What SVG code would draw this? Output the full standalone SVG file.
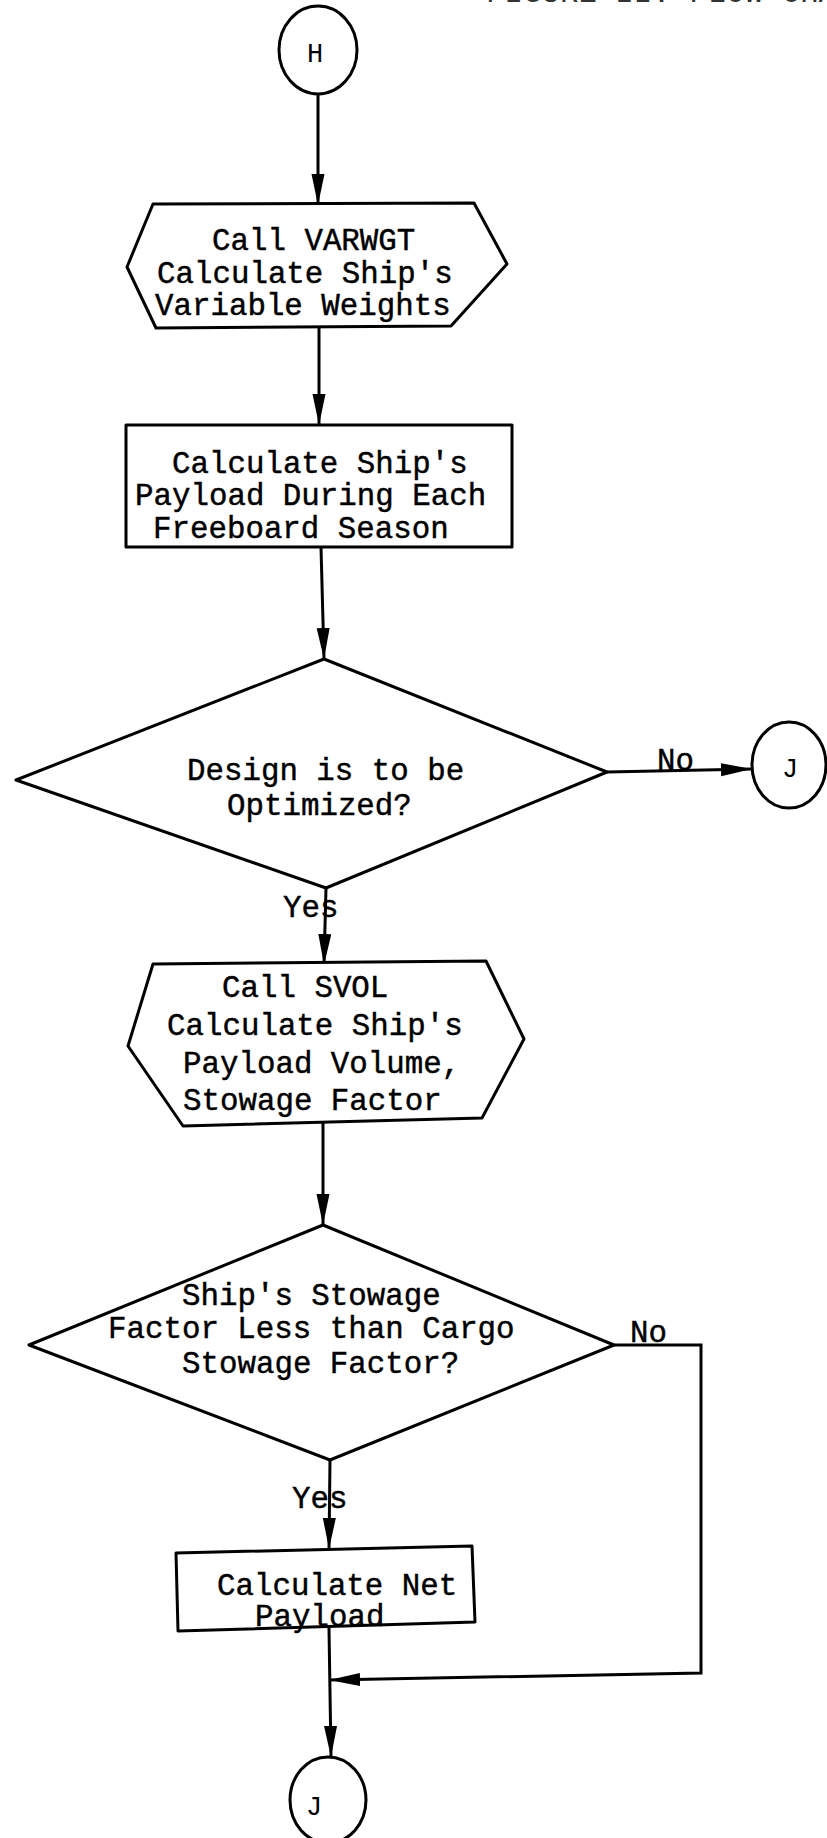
<svg xmlns="http://www.w3.org/2000/svg" width="827" height="1838" viewBox="0 0 827 1838">
  <defs>
    <marker id="arrow" markerUnits="userSpaceOnUse" markerWidth="32" markerHeight="14" refX="31" refY="6.5" orient="auto">
      <path d="M0,0 L31,6.5 L0,13 Z" fill="#000"/>
    </marker>
    <style>
      .shape { fill: #fff; stroke: #000; stroke-width: 3; stroke-linejoin: round; }
      .conn { fill: none; stroke: #000; stroke-width: 3; }
      .t { font-family: "Liberation Mono", "Courier New", monospace; font-size: 30.8px; fill: #000; stroke: #000; stroke-width: 0.45; }
      .c { font-family: "Liberation Mono", "Courier New", monospace; font-size: 27px; fill: #000; }
      .hdr { font-family: "Liberation Mono", "Courier New", monospace; font-size: 30.8px; fill: #333; }
    </style>
  </defs>

  <rect width="827" height="1838" fill="#fff"/>

  <!-- page heading, cut by the top edge -->
  <text class="hdr" x="486" y="2">FIGURE II. FLOW CHART</text>

  <g id="connectors">
    <path class="conn" d="M318,94 L318,205" marker-end="url(#arrow)"/>
    <path class="conn" d="M319,327 L319,425" marker-end="url(#arrow)"/>
    <path class="conn" d="M321,547 L324,659" marker-end="url(#arrow)"/>
    <path class="conn" d="M607,772 L752,769" marker-end="url(#arrow)"/>
    <path class="conn" d="M326,888 L324,965" marker-end="url(#arrow)"/>
    <path class="conn" d="M323,1118 L323,1225" marker-end="url(#arrow)"/>
    <path class="conn" d="M330,1460 L329,1549" marker-end="url(#arrow)"/>
    <path class="conn" d="M614,1345 L701,1345 L701,1673 L329,1680" marker-end="url(#arrow)"/>
    <path class="conn" d="M329,1628 L331,1757" marker-end="url(#arrow)"/>
  </g>

  <g id="start-H">
    <ellipse class="shape" cx="318" cy="50" rx="39" ry="44"/>
    <text class="c" x="307" y="62">H</text>
  </g>

  <g id="call-varwgt">
    <polygon class="shape" points="153,204 474,203 507,264 451,326 156,328 127,267"/>
    <text class="t" x="212" y="250">Call VARWGT</text>
    <text class="t" x="157" y="283">Calculate Ship's</text>
    <text class="t" x="155" y="315">Variable Weights</text>
  </g>

  <g id="payload-each-season">
    <rect class="shape" x="126" y="425" width="386" height="122"/>
    <text class="t" x="172" y="473">Calculate Ship's</text>
    <text class="t" x="135" y="505">Payload During Each</text>
    <text class="t" x="153" y="538">Freeboard Season</text>
  </g>

  <g id="decision-optimized">
    <polygon class="shape" points="324,659 607,772 326,888 16,780"/>
    <text class="t" x="187" y="780">Design is to be</text>
    <text class="t" x="227" y="815">Optimized?</text>
  </g>
  <text class="t" x="657" y="770">No</text>
  <text class="t" x="283" y="917">Yes</text>

  <g id="exit-J-right">
    <ellipse class="shape" cx="789" cy="765" rx="37" ry="43"/>
    <text class="c" x="782" y="777">J</text>
  </g>

  <g id="call-svol">
    <polygon class="shape" points="153,964 486,961 524,1039 482,1118 183,1126 128,1046"/>
    <text class="t" x="222" y="997">Call SVOL</text>
    <text class="t" x="167" y="1035">Calculate Ship's</text>
    <text class="t" x="183" y="1073">Payload Volume,</text>
    <text class="t" x="183" y="1110">Stowage Factor</text>
  </g>

  <g id="decision-stowage">
    <polygon class="shape" points="323,1225 614,1345 330,1460 29,1345"/>
    <text class="t" x="182" y="1305">Ship's Stowage</text>
    <text class="t" x="108" y="1338">Factor Less than Cargo</text>
    <text class="t" x="182" y="1373">Stowage Factor?</text>
  </g>
  <text class="t" x="630" y="1342">No</text>
  <text class="t" x="292" y="1508">Yes</text>

  <g id="net-payload">
    <polygon class="shape" points="176,1553 472,1546 475,1622 178,1631"/>
    <text class="t" x="217" y="1595">Calculate Net</text>
    <text class="t" x="255" y="1626">Payload</text>
  </g>

  <g id="exit-J-bottom">
    <ellipse class="shape" cx="328" cy="1800" rx="38" ry="43"/>
    <text class="c" x="306" y="1815">J</text>
  </g>
</svg>
